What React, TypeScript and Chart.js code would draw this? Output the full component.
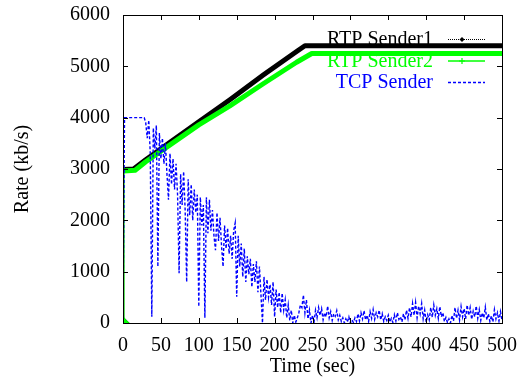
import React, { useEffect, useRef } from "react";
import { Chart, registerables } from "chart.js";

Chart.register(...registerables);

// ---- data ----
const seriesNames = ["RTP Sender1", "RTP Sender2", "TCP Sender"];

const rtp1Time = [0, 1, 14, 30, 62, 100, 141, 185, 229, 240, 500];
const rtp1Rate = [0, 2990, 3000, 3180, 3520, 3920, 4350, 4830, 5290, 5402, 5402];

const rtp2Time = [0, 1, 16, 30, 62, 100, 141, 185, 229, 249, 500];
const rtp2Rate = [0, 2960, 2975, 3140, 3470, 3860, 4230, 4660, 5080, 5250, 5250];

// TCP rate sampled every 2 s from t = 0 to t = 500
const tcpStep = 2;
const tcpRate = [
  0, 4000, 4000, 4000, 4000, 4000, 4000, 4000, 4000, 4000,
  4000, 4000, 4000, 4000, 4000, 3900, 3600, 3950, 3300, 120,
  3800, 3400, 3850, 1100, 3700, 3200, 3600, 3100, 3500, 2900,
  2400, 3300, 2700, 3200, 2600, 3100, 2500, 970, 2900, 2300,
  2950, 2200, 800, 2800, 2100, 2700, 2000, 2600, 2150, 2500,
  320, 2450, 1900, 2300, 100, 2450, 1750, 2400, 1800, 2200,
  1700, 1420, 2150, 1600, 2050, 1500, 1100, 1900, 1450, 1850,
  1350, 1700, 1250, 1800, 1950, 510, 1700, 1100, 1550, 900,
  1450, 800, 1300, 950, 1250, 700, 1150, 800, 1200, 600,
  1100, 550, 0, 900, 450, 850, 500, 750, 350, 800,
  120, 650, 300, 600, 200, 580, 250, 450, 100, 350,
  50, 250, 0, 150, 20, 100, 200, 350, 300, 545,
  200, 450, 80, 250, 0, 150, 20, 250, 100, 300,
  150, 280, 60, 200, 120, 330, 100, 220, 50, 180,
  130, 240, 60, 150, 30, 100, 0, 80, 20, 120,
  0, 60, 10, 100, 30, 180, 40, 200, 80, 240,
  60, 150, 30, 220, 90, 260, 70, 200, 120, 250,
  60, 180, 30, 120, 50, 150, 20, 90, 10, 160,
  40, 200, 70, 120, 20, 180, 60, 250, 90, 300,
  120, 380, 150, 400, 100, 330, 180, 380, 80, 250,
  20, 160, 60, 300, 110, 350, 150, 280, 90, 320,
  120, 200, 30, 110, 10, 80, 0, 150, 40, 300,
  90, 250, 60, 320, 120, 280, 80, 350, 150, 300,
  70, 230, 120, 330, 90, 260, 50, 200, 100, 310,
  60, 180, 30, 140, 20, 260, 80, 200, 40, 220,
  50,
];

const xTitle = "Time (sec)";
const yTitle = "Rate (kb/s)";
const xMin = 0, xMax = 500, xStep = 50;
const yMin = 0, yMax = 6000, yStep = 1000;

const FONT = "'Liberation Serif', 'Times New Roman', Times, serif";
const BLACK = "#000000";
const GREEN = "#00ff00";
const BLUE = "#0000ff";

const framePlugin = {
  id: "gnuplotFrame",
  beforeDatasetsDraw(chart: any) {
    const ctx = chart.ctx as CanvasRenderingContext2D;
    const rows = [
      { color: BLACK, kind: "dots" },
      { color: GREEN, kind: "plus" },
      { color: BLUE, kind: "dash" },
    ];
    ctx.save();
    ctx.font = `20px ${FONT}`;
    ctx.textAlign = "right";
    ctx.textBaseline = "alphabetic";
    rows.forEach((r, i) => {
      const base = 45 + i * 21.5;
      const sy = base - 5.5;
      ctx.fillStyle = r.color;
      ctx.fillText(chart.data.datasets[i].label, 433, base);
      ctx.strokeStyle = r.color;
      ctx.beginPath();
      if (r.kind === "dots") {
        ctx.lineWidth = 1;
        ctx.setLineDash([1, 1]);
      } else if (r.kind === "plus") {
        ctx.lineWidth = 1.5;
        ctx.setLineDash([]);
      } else {
        ctx.lineWidth = 1.3;
        ctx.setLineDash([3, 2]);
      }
      ctx.moveTo(448, sy);
      ctx.lineTo(485, sy);
      ctx.stroke();
      ctx.setLineDash([]);
      const mx = 462;
      if (r.kind === "dots") {
        ctx.fillStyle = r.color;
        ctx.beginPath();
        ctx.moveTo(mx, sy - 2.5);
        ctx.lineTo(mx + 2.5, sy);
        ctx.lineTo(mx, sy + 2.5);
        ctx.lineTo(mx - 2.5, sy);
        ctx.closePath();
        ctx.fill();
      } else if (r.kind === "plus") {
        ctx.lineWidth = 1.2;
        ctx.beginPath();
        ctx.moveTo(mx - 3, sy);
        ctx.lineTo(mx + 3, sy);
        ctx.moveTo(mx, sy - 3);
        ctx.lineTo(mx, sy + 3);
        ctx.stroke();
      }
    });
    ctx.restore();
  },
  afterDatasetsDraw(chart: any) {
    const ctx = chart.ctx as CanvasRenderingContext2D;
    const { left, right, top, bottom } = chart.chartArea;
    const xs = chart.scales.x;
    const ys = chart.scales.y;
    ctx.save();
    ctx.strokeStyle = BLACK;
    ctx.lineWidth = 1;
    ctx.setLineDash([]);
    ctx.strokeRect(Math.round(left) + 0.5, Math.round(top) + 0.5, Math.round(right - left), Math.round(bottom - top));
    const tl = 5;
    ctx.beginPath();
    xs.ticks.forEach((t: any) => {
      const px = Math.round(xs.getPixelForValue(t.value)) + 0.5;
      ctx.moveTo(px, bottom);
      ctx.lineTo(px, bottom - tl);
      ctx.moveTo(px, top);
      ctx.lineTo(px, top + tl);
    });
    ys.ticks.forEach((t: any) => {
      const py = Math.round(ys.getPixelForValue(t.value)) + 0.5;
      ctx.moveTo(left, py);
      ctx.lineTo(left + tl, py);
      ctx.moveTo(right, py);
      ctx.lineTo(right - tl, py);
    });
    ctx.stroke();

    ctx.fillStyle = BLACK;
    ctx.font = `20px ${FONT}`;
    ctx.textAlign = "center";
    ctx.textBaseline = "alphabetic";
    ctx.fillText(xTitle, (left + right) / 2, 372);
    ctx.translate(28, (top + bottom) / 2);
    ctx.rotate(-Math.PI / 2);
    ctx.fillText(yTitle, 0, 0);
    ctx.restore();
  },
};

const noPad = (s: any) => {
  s.paddingLeft = 0;
  s.paddingRight = 0;
  s.paddingTop = 0;
  s.paddingBottom = 0;
};

export default function App() {
  const ref = useRef<HTMLCanvasElement | null>(null);

  useEffect(() => {
    const canvas = ref.current;
    if (!canvas) return;
    const tickFont = { family: FONT, size: 20 };
    const chart = new Chart(canvas, {
      type: "line",
      data: {
        datasets: [
          {
            label: seriesNames[0],
            data: rtp1Time.map((t, i) => ({ x: t, y: rtp1Rate[i] })),
            borderColor: BLACK,
            backgroundColor: BLACK,
            borderWidth: 5,
            pointRadius: (c: any) => (c.dataIndex === 0 ? 3 : 0),
            pointStyle: "rectRot",
            borderJoinStyle: "round",
            segment: { borderWidth: (c: any) => (c.p0DataIndex === 0 ? 1 : 5) },
            order: 3,
          },
          {
            label: seriesNames[1],
            data: rtp2Time.map((t, i) => ({ x: t, y: rtp2Rate[i] })),
            borderColor: GREEN,
            backgroundColor: GREEN,
            borderWidth: 5,
            pointRadius: (c: any) => (c.dataIndex === 0 ? 3 : 0),
            pointStyle: "rectRot",
            borderJoinStyle: "round",
            segment: { borderWidth: (c: any) => (c.p0DataIndex === 0 ? 1.5 : 5) },
            order: 2,
          },
          {
            label: seriesNames[2],
            data: tcpRate.map((v, i) => ({ x: i * tcpStep, y: v })),
            borderColor: BLUE,
            backgroundColor: BLUE,
            borderWidth: 1.4,
            borderDash: [3, 2],
            pointRadius: 0,
            order: 1,
          },
        ],
      },
      options: {
        responsive: false,
        animation: false,
        devicePixelRatio: 1,
        layout: { padding: { top: 15, right: 15, left: 0, bottom: 0 } },
        plugins: { legend: { display: false }, tooltip: { enabled: false } },
        elements: { line: { tension: 0 } },
        scales: {
          x: {
            type: "linear",
            min: xMin,
            max: xMax,
            ticks: {
              stepSize: xStep, autoSkip: false, maxRotation: 0, padding: 11, color: BLACK, font: tickFont,
              callback: (v: any) => String(v),
            },
            grid: { display: false, drawTicks: false },
            border: { display: false },
            afterFit: (s: any) => { s.height = 56; noPad(s); },
          },
          y: {
            type: "linear",
            min: yMin,
            max: yMax,
            ticks: {
              stepSize: yStep, padding: 13, color: BLACK, font: tickFont,
              callback: (v: any) => String(v),
            },
            grid: { display: false, drawTicks: false },
            border: { display: false },
            afterFit: (s: any) => { s.width = 123; noPad(s); },
          },
        },
      } as any,
      plugins: [framePlugin],
    });
    return () => chart.destroy();
  }, []);

  return (
    <div style={{ position: "absolute", left: 0, top: 0, width: 517, height: 379, background: "#fff" }}>
      <canvas ref={ref} width={517} height={379} style={{ display: "block" }} />
    </div>
  );
}
